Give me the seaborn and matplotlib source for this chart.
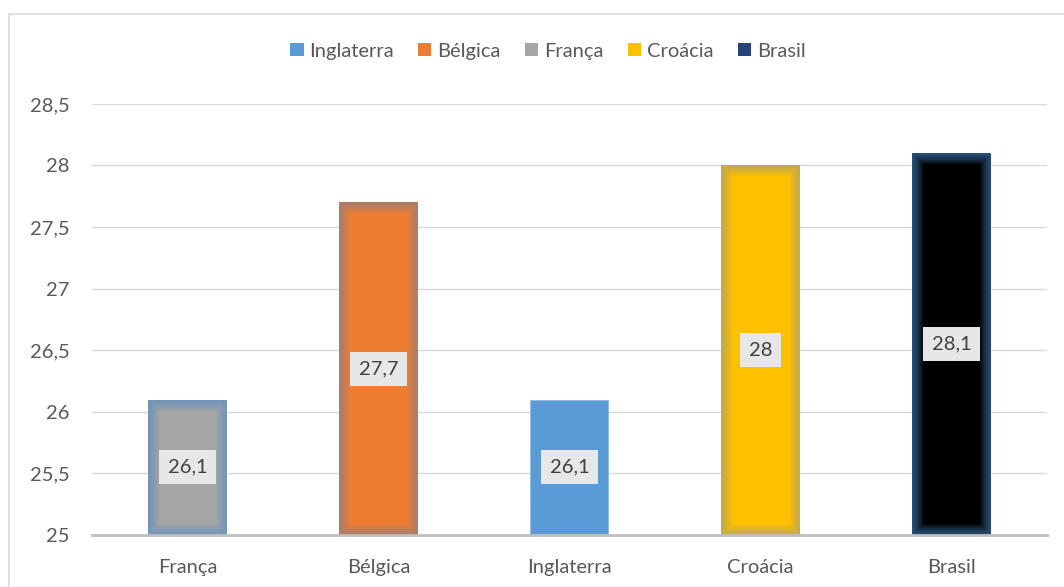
import matplotlib
matplotlib.use("Agg")
import matplotlib.pyplot as plt
import seaborn as sns
import pandas as pd
import numpy as np
from matplotlib.patches import Rectangle, Patch
from matplotlib.ticker import FuncFormatter, MultipleLocator

# ---- data ----
categories = ["França", "Bélgica", "Inglaterra", "Croácia", "Brasil"]
values = [26.1, 27.7, 26.1, 28.0, 28.1]
value_labels = ["26,1", "27,7", "26,1", "28", "28,1"]
legend_order = ["Inglaterra", "Bélgica", "França", "Croácia", "Brasil"]
bar_colors = {"França": "#a5a5a5", "Bélgica": "#ed7d31", "Inglaterra": "#5b9bd5",
              "Croácia": "#ffc000", "Brasil": "#000000"}
legend_colors = {"Inglaterra": "#5b9bd5", "Bélgica": "#ed7d31", "França": "#a5a5a5",
                 "Croácia": "#ffc000", "Brasil": "#264478"}
glow_colors = {"França": "#5b8fcf", "Bélgica": "#7590b0", "Inglaterra": None,
               "Croácia": "#8a9cb0", "Brasil": "#4a88c8"}
glow_alpha = {"França": 0.055, "Bélgica": 0.045, "Inglaterra": 0.0,
              "Croácia": 0.04, "Brasil": 0.06}

df = pd.DataFrame({"pais": categories, "valor": values})

sns.set_theme(style="white")
plt.rcParams["font.family"] = ["Lato", "DejaVu Sans"]
text_color = "#595959"
FS = 14.5

fig = plt.figure(figsize=(10.64, 5.87), dpi=100)
ax = fig.add_axes([0.0865, 0.0886, 0.8975, 0.7344])

sns.barplot(data=df, x="pais", y="valor", hue="pais", palette=bar_colors,
            saturation=1, dodge=False, width=0.41, legend=False, ax=ax, zorder=2,
            edgecolor="none", linewidth=0)

ax.set_ylim(25, 28.5)
ax.set_xlim(-0.5, len(categories) - 0.5)
ax.yaxis.set_major_locator(MultipleLocator(0.5))
ax.yaxis.set_major_formatter(FuncFormatter(
    lambda v, p: (f"{v:.1f}".rstrip("0").rstrip(".")).replace(".", ",")))
ax.grid(axis="y", color="#d9d9d9", linewidth=1, zorder=0)
ax.grid(axis="x", visible=False)
for s in ["top", "right", "left"]:
    ax.spines[s].set_visible(False)
ax.spines["bottom"].set_color("#bfbfbf")
ax.spines["bottom"].set_linewidth(2)
ax.spines["bottom"].set_zorder(5)
ax.tick_params(axis="both", length=0, labelsize=FS, labelcolor=text_color)
ax.tick_params(axis="x", pad=17)
ax.tick_params(axis="y", pad=16)
ax.set_xlabel("")
ax.set_ylabel("")

# soft inner glow on bars (clipped to the visible part of each bar)
ymin = ax.get_ylim()[0]
for patch, name in zip(ax.patches, categories):
    g = glow_colors[name]
    x0, w = patch.get_x(), patch.get_width()
    top = patch.get_y() + patch.get_height()
    clip = Rectangle((x0, ymin), w, top - ymin, transform=ax.transData)
    if g is not None:
        for lw in np.linspace(16, 1.0, 16):
            r = Rectangle((x0, ymin), w, top - ymin, facecolor="none", edgecolor=g,
                          linewidth=lw, alpha=glow_alpha[name], zorder=3)
            ax.add_patch(r)
            r.set_clip_path(clip)
    else:
        r = Rectangle((x0, ymin), w, top - ymin, facecolor="none",
                      edgecolor="#9dc3e6", linewidth=1.2, zorder=3)
        ax.add_patch(r)
        r.set_clip_path(clip)

for container in ax.containers:
    ax.bar_label(container, fmt=lambda v: value_labels[values.index(v)],
                 label_type="center", fontsize=FS, color="#404040", zorder=6,
                 bbox=dict(boxstyle="square,pad=0.42", facecolor="#e7e7e7", edgecolor="none"))

handles = [Patch(facecolor=legend_colors[n], edgecolor="none") for n in legend_order]
fig.legend(handles, legend_order, loc="center", bbox_to_anchor=(0.515, 0.913),
           ncol=5, frameon=False, fontsize=FS, handlelength=0.65, handleheight=0.65,
           handletextpad=0.3, columnspacing=1.2, labelcolor=text_color)

# outer chart border
border = Rectangle((0.0085, -0.05), 1.2, 1.026, transform=fig.transFigure,
                   facecolor="none", edgecolor="#d9d9d9", linewidth=1.2)
fig.patches.append(border)

fig.savefig("out.png", dpi=100)
